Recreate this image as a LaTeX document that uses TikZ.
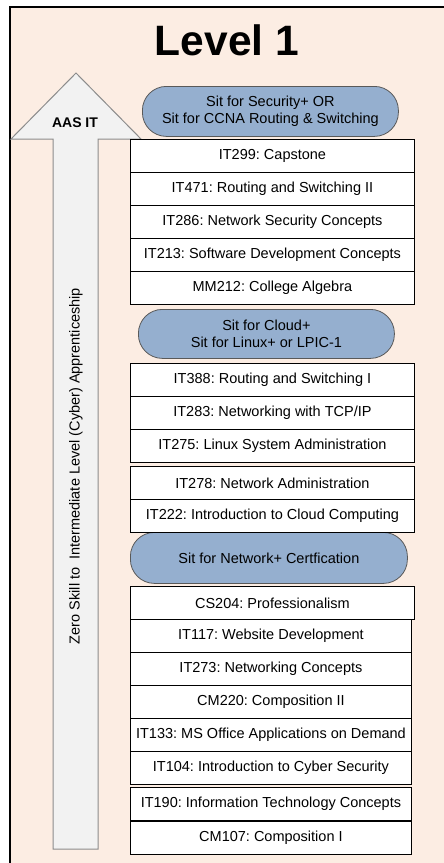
\documentclass[tikz,border=0pt]{standalone}
\usepackage{fontspec}
\setmainfont{Liberation Sans}
\frenchspacing
\definecolor{pagepeach}{HTML}{FCEDE3}
\definecolor{certblue}{HTML}{95AFCF}
\definecolor{arrowfill}{HTML}{F2F2F2}

\tikzset{
  course/.style={draw=black, line width=0.9pt, fill=white, anchor=north west,
    minimum width=284pt, minimum height=33pt, inner sep=0pt,
    font=\fontsize{14.5}{16}\selectfont},
  cert/.style={draw=black!65, line width=0.8pt, fill=certblue, anchor=north west,
    rounded corners=24pt, inner sep=0pt, align=center,
    font=\fontsize{14.5}{17}\selectfont}
}

\begin{document}
\begin{tikzpicture}[x=1pt, y=-1pt]
  \clip (0,0) rectangle (444,863);

  % Page frame
  \fill[pagepeach] (10,7) rectangle (450,870);
  \draw[line width=1.2pt] (450,7) -- (10,7) -- (10,870);

  % Title
  \node[font=\bfseries\fontsize{42.5}{46}\selectfont] (title) at (227,40) {Level 1};

  % Big arrow
  \draw[draw=black!45, line width=1pt, fill=arrowfill]
    (76,73) -- (141,139) -- (98,139) -- (98,849) -- (53,849) -- (53,139) -- (11,139) -- cycle;
  \node[font=\bfseries\fontsize{14}{16}\selectfont] (aas) at (75,123) {AAS IT};
  \node[rotate=90, font=\fontsize{14.5}{16}\selectfont] (path) at (76,466)
    {Zero Skill to \ Intermediate Level (Cyber) Apprenticeship};

  % Certification ovals
  \node[cert, minimum width=256pt, minimum height=50pt] (secplus) at (142,86)
    {Sit for Security+ OR\\Sit for CCNA Routing \& Switching};
  \node[cert, minimum width=256pt, minimum height=49pt] (cloudplus) at (138,309)
    {Sit for Cloud+\\Sit for Linux+ or LPIC-1};
  \node[cert, minimum width=277pt, minimum height=51pt] (netplus) at (130,532)
    {Sit for Network+ Certfication};

  % Courses (top to bottom)
  \node[course] (it299) at (130,139) {IT299: Capstone};
  \node[course] (it471) at (130,172) {IT471: Routing and Switching II};
  \node[course] (it286) at (130,205) {IT286: Network Security Concepts};
  \node[course] (it213) at (130,238) {IT213: Software Development Concepts};
  \node[course] (mm212) at (130,271) {MM212: College Algebra};

  \node[course] (it388) at (130,363) {IT388: Routing and Switching I};
  \node[course] (it283) at (130,396) {IT283: Networking with TCP/IP};
  \node[course] (it275) at (130,429) {IT275: Linux System Administration};

  \node[course] (it278) at (130,466) {IT278: Network Administration};
  \node[course] (it222) at (130,499) {IT222: Introduction to Cloud Computing};

  \node[course] (cs204) at (130,586) {CS204: Professionalism};
  \node[course, minimum width=281pt] (it117) at (130,619) {IT117: Website Development};
  \node[course, minimum width=281pt] (it273) at (130,652) {IT273: Networking Concepts};
  \node[course, minimum width=281pt] (cm220) at (130,685) {CM220: Composition II};
  \node[course, minimum width=281pt] (it133) at (130,718) {IT133: MS Office Applications on Demand};
  \node[course, minimum width=281pt] (it104) at (130,751) {IT104: Introduction to Cyber Security};
  \node[course, minimum width=281pt] (it190) at (130,787) {IT190: Information Technology Concepts};
  \node[course, minimum width=281pt] (cm107) at (130,821) {CM107: Composition I};
\end{tikzpicture}
\end{document}
